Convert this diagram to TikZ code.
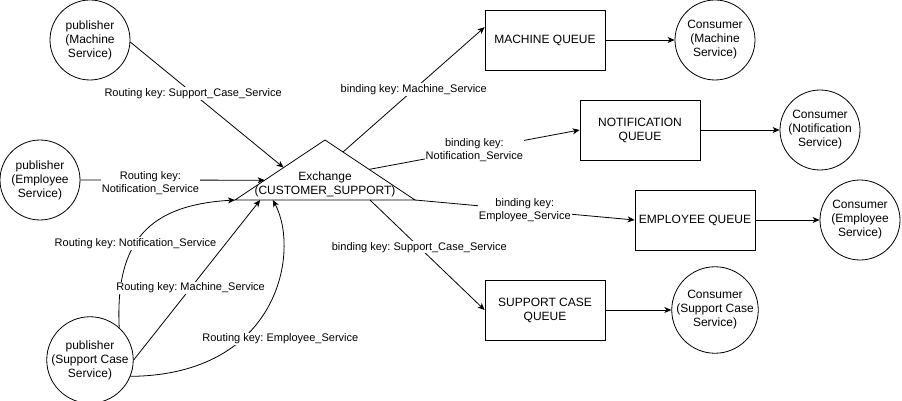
\documentclass[tikz,border=0pt]{standalone}
\usepackage{fontspec}
\setmainfont{Liberation Sans}
\usetikzlibrary{arrows.meta,calc}
\frenchspacing
\begin{document}
\begin{tikzpicture}[
		x=1pt, y=-1pt,
		font=\fontsize{12}{14}\selectfont,
		pub/.style={circle,draw,line width=0.8pt,minimum size=80pt,inner sep=0pt,align=center},
		que/.style={rectangle,draw,line width=0.8pt,minimum width=120pt,minimum height=60pt,inner sep=0pt,align=center},
		lbl/.style={fill=white,inner sep=1pt,align=center,font=\fontsize{11}{13}\selectfont},
		arr/.style={draw,line width=0.8pt,-{Stealth[length=7pt,width=6pt,inset=2pt]}}
	]
	\path[fill=white,use as bounding box] (0,0) rectangle (902,401);
	\node[pub] (pubM) at (90,40) {publisher\\(Machine\\Service)};
	\node[pub] (pubE) at (40,180) {publisher\\(Employee\\Service)};
	\node[pub] (pubS) at (90,360) {publisher\\(Support Case\\Service)};
	\coordinate (exA) at (325,140);
	\coordinate (exBL) at (235,200);
	\coordinate (exBR) at (415,200);
	\draw[line width=0.8pt,line join=miter] (exBL) -- (exA) -- (exBR) -- cycle;
	\node[align=center] (ex) at (325,184) {Exchange\\(CUSTOMER\_SUPPORT)};
	\coordinate (exL1) at ($(exBL)!0.54!(exA)$);
	\coordinate (exL2) at ($(exBL)!0.33!(exA)$);
	\coordinate (exB1) at ($(exBL)!0.14!(exBR)$);
	\coordinate (exB2) at ($(exBL)!0.21!(exBR)$);
	\coordinate (exB3) at ($(exBL)!0.75!(exBR)$);
	\coordinate (exR1) at ($(exA)!0.2!(exBR)$);
	\coordinate (exR2) at ($(exA)!0.49!(exBR)$);
	\node[que] (qM) at (545,40) {MACHINE QUEUE};
	\node[que] (qN) at (640,130) {NOTIFICATION\\QUEUE};
	\node[que] (qE) at (695,220) {EMPLOYEE QUEUE};
	\node[que] (qS) at (545,310) {SUPPORT CASE\\QUEUE};
	\node[pub] (conM) at (715,40) {Consumer\\(Machine\\Service)};
	\node[pub] (conN) at (820,130) {Consumer\\(Notification\\Service)};
	\node[pub] (conE) at (860,220) {Consumer\\(Employee\\Service)};
	\node[pub] (conS) at (715,310) {Consumer\\(Support Case\\Service)};
	\draw[arr] (pubM.-3) -- node[lbl,pos=0.41] {Routing key: Support\_Case\_Service} (exL1);
	\draw[arr] (pubE.east) -- node[lbl,pos=0.38,yshift=-3pt] {Routing key:\\Notification\_Service} (exL2);
	\draw[arr] (pubS.48) .. controls (115,240) and (150,205) .. node[lbl,pos=0.42] {Routing key: Notification\_Service} (exBL);
	\draw[arr] (pubS.east) -- node[lbl,pos=0.45] {Routing key: Machine\_Service} (exB1);
	\draw[arr] (pubS.-22) .. controls (280,375) and (300,250) .. node[lbl,pos=0.38,xshift=31pt,yshift=-7pt] {Routing key: Employee\_Service} (exB2);
	\draw[arr] (exR1) -- node[lbl,pos=0.5] {binding key: Machine\_Service} (qM.168);
	\draw[arr] (exR2) -- node[lbl,pos=0.5] {binding key:\\Notification\_Service} (qN.west);
	\draw[arr] (exBR) -- node[lbl,pos=0.5] {binding key:\\Employee\_Service} (qE.west);
	\draw[arr] (exB3) -- node[lbl,pos=0.43] {binding key: Support\_Case\_Service} (qS.west);
	\draw[arr] (qM) -- (conM);
	\draw[arr] (qN) -- (conN);
	\draw[arr] (qE) -- (conE);
	\draw[arr] (qS) -- (conS);
\end{tikzpicture}
\end{document}
